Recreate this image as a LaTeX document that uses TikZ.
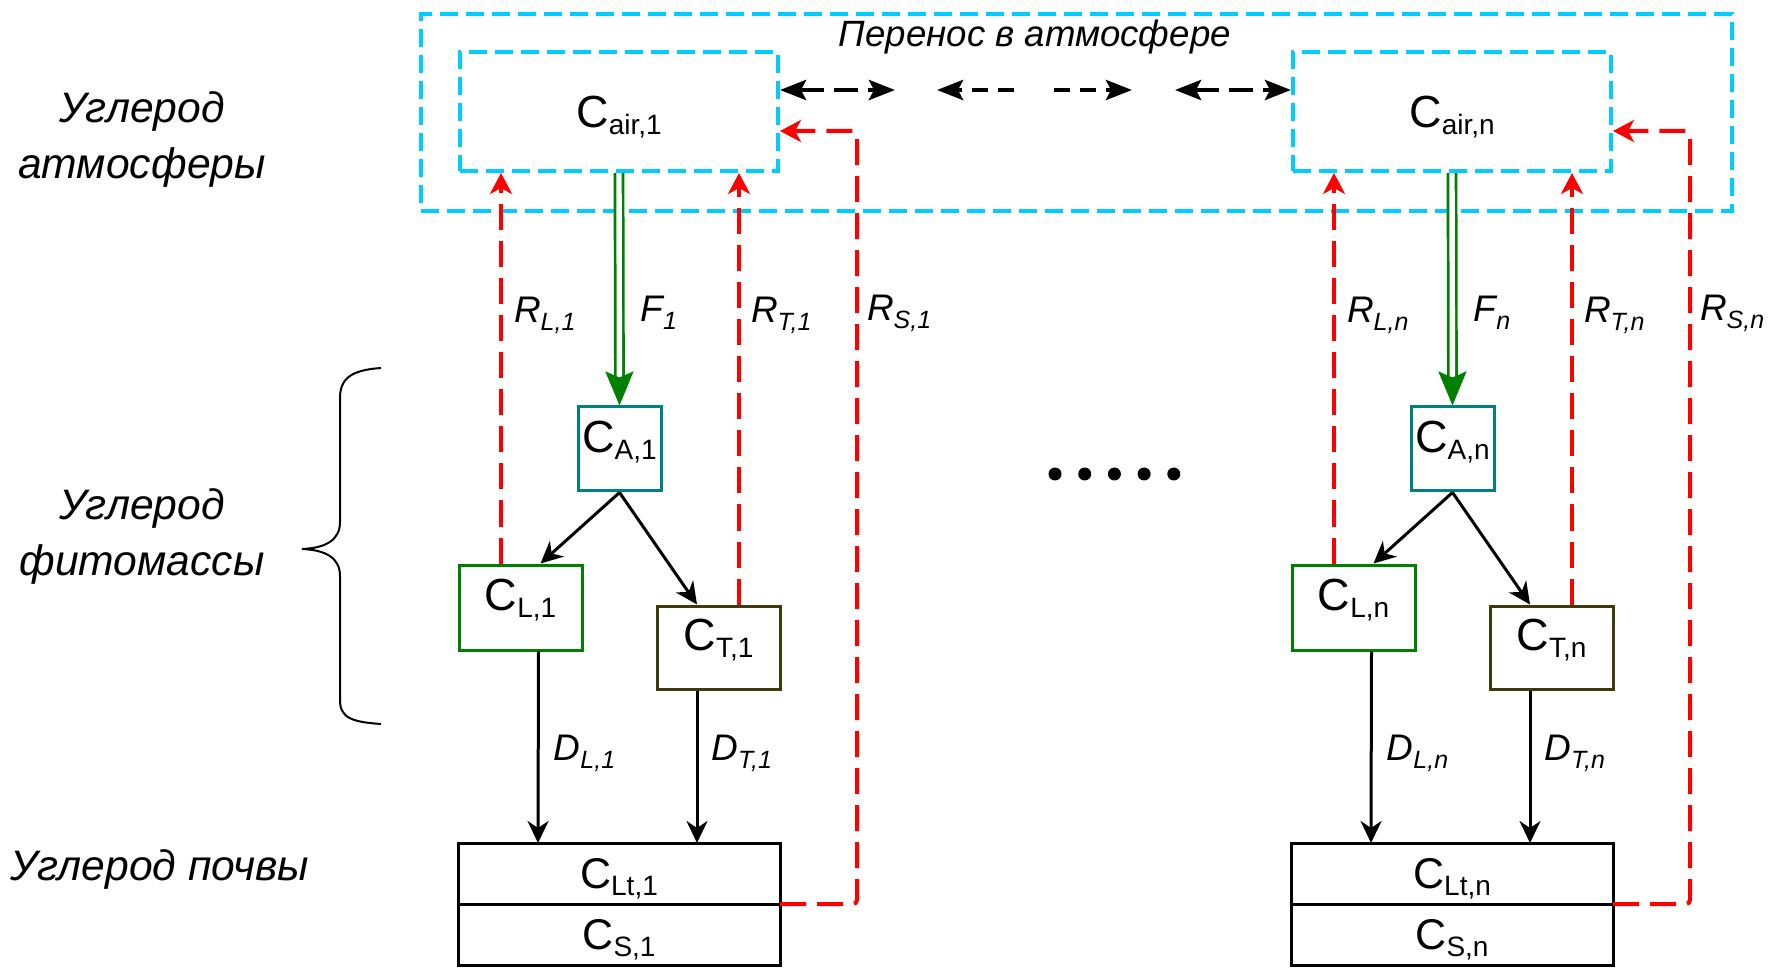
\documentclass[tikz,border=0pt]{standalone}
\usepackage{fontspec}
\setmainfont{Liberation Sans}
\usepackage{tikz}
\usetikzlibrary{arrows.meta, positioning}

\definecolor{airblue}{RGB}{0,204,255}
\definecolor{leafgreen}{RGB}{0,128,0}
\definecolor{assimteal}{RGB}{0,128,128}
\definecolor{trunkolive}{RGB}{60,60,10}

\newcommand{\bsub}[1]{\raisebox{-3.5pt}{\fontsize{14}{14}\selectfont #1}}
\newcommand{\ssub}[1]{\raisebox{-3.5pt}{\fontsize{14}{14}\selectfont #1}}
\newcommand{\fsub}[1]{\raisebox{-4pt}{\fontsize{12.5}{12.5}\selectfont #1}}

\tikzset{
    airframe/.style={rectangle, draw=airblue, line width=2pt, dash pattern=on 9pt off 4pt},
    poolbox/.style={rectangle, draw=black, line width=1.5pt, inner sep=1pt, font=\fontsize{22.5}{24}\selectfont, text height=16.1pt, text depth=13pt},
    airbox/.style={poolbox, airframe, minimum width=159pt, minimum height=59.5pt, text depth=0pt},
    assimbox/.style={poolbox, draw=assimteal, minimum width=41.5pt, minimum height=42pt},
    leafbox/.style={poolbox, draw=leafgreen, minimum width=61.5pt, minimum height=42.5pt},
    trunkbox/.style={poolbox, draw=trunkolive, minimum width=61.5pt, minimum height=41.5pt},
    soilbox/.style={poolbox, outer sep=0pt, font=\fontsize{21.5}{23}\selectfont, text height=15.4pt, text depth=0pt, minimum width=161pt, minimum height=30.5pt},
    sidelabel/.style={font=\fontsize{21.3}{28}\selectfont\itshape, align=center, inner sep=0pt},
    titlelabel/.style={font=\fontsize{18.3}{20}\selectfont\itshape, inner sep=0pt, text height=13.1pt, text depth=0pt},
    flowlabel/.style={font=\fontsize{18.5}{20}\selectfont\itshape, inner sep=0pt, text height=13.2pt, text depth=0pt},
    fluxarrow/.style={draw=leafgreen, line width=1.35pt, double=white, double distance=2.7pt, -{Stealth[length=17pt, width=14pt, inset=3pt]}},
    resparrow/.style={draw=red, line width=2pt, dash pattern=on 13pt off 5.5pt, -{Stealth[length=10.5pt, width=11pt, inset=3pt]}},
    flowarrow/.style={draw=black, line width=1.5pt, -{Stealth[length=11pt, width=10.5pt, inset=3.5pt]}},
    transarrow/.style={draw=black, line width=2.2pt, dash pattern=on 12pt off 5pt, >={Stealth[length=13pt, width=10pt, inset=2.5pt]}}
}

\begin{document}
\begin{tikzpicture}[x=0.5pt, y=-0.5pt]
    \useasboundingbox (0,0) rectangle (1769,968);

    % atmosphere frame
    \node[airframe, minimum width=655.5pt, minimum height=98.5pt] (atmos) at (1076.5,112.5) {};
    \node[titlelabel] (atmostitle) at (1035,33) {Перенос в атмосфере};

    % side captions
    \node[sidelabel] (lblair) at (142,139) {Углерод\\атмосферы};
    \node[sidelabel] (lblplant) at (142,536) {Углерод\\фитомассы};
    \node[sidelabel] (lblsoil) at (160,869) {Углерод почвы};
    \draw[line width=1pt] (381,368) .. controls (352,370) and (340,378) .. (340,398) -- (340,522)
        .. controls (340,540) and (326,548) .. (302,549) .. controls (326,550) and (340,558) .. (340,576)
        -- (340,700) .. controls (340,718) and (352,722) .. (381,724);

    % the two columns
    \foreach \i/\dx in {1/0, n/833}{
        \node[airbox] (cair\i) at (619+\dx,111.5) {C\bsub{air,\i}};
        \node[assimbox] (ca\i) at (619.5+\dx,449) {C\bsub{A,\i}};
        \node[leafbox] (cl\i) at (520.5+\dx,607.5) {C\bsub{L,\i}};
        \node[trunkbox] (ct\i) at (718.5+\dx,647.5) {C\bsub{T,\i}};
        \node[soilbox] (clt\i) at (619+\dx,873.5) {C\ssub{Lt,\i}};
        \node[soilbox, below=0pt of clt\i] (cs\i) {C\ssub{S,\i}};

        \draw[fluxarrow] (cair\i.south) -- node[flowlabel, pos=0.58, right=10pt] {F\fsub{\i}} (ca\i.north);
        \draw[flowarrow] (ca\i.south) -- ([xshift=10pt]cl\i.north);
        \draw[flowarrow] (ca\i.south) -- ([xshift=-10.75pt]ct\i.north);
        \draw[resparrow] ([xshift=-9.75pt]cl\i.north) -- node[flowlabel, pos=0.652, right=5.5pt] {R\fsub{L,\i}} ([xshift=-59pt]cair\i.south);
        \draw[resparrow] ([xshift=10.25pt]ct\i.north) -- node[flowlabel, pos=0.685, right=5pt] {R\fsub{T,\i}} ([xshift=60pt]cair\i.south);
        \draw[resparrow, rounded corners=2pt] (clt\i.south east) -- ++(77,0) |- node[flowlabel, pos=0.386, right=4pt] {R\fsub{S,\i}} ([yshift=-9.75pt]cair\i.east);
        \draw[flowarrow] ([xshift=9pt]cl\i.south) -- node[flowlabel, pos=0.5, right=7pt] {D\fsub{L,\i}} ([xshift=-40.5pt]clt\i.north);
        \draw[flowarrow] ([xshift=-10.75pt]ct\i.south) -- node[flowlabel, pos=0.37, right=6.5pt] {D\fsub{T,\i}} ([xshift=39pt]clt\i.north);
    }

    % transport between cells
    \coordinate (t1) at (895,90);
    \coordinate (t2a) at (1014,90);
    \coordinate (t2b) at (937,90);
    \coordinate (t3a) at (1054,90);
    \coordinate (t3b) at (1132,90);
    \coordinate (t4) at (1175,90);
    \draw[transarrow, <->] ([yshift=10.75pt]cair1.east) -- (t1);
    \draw[transarrow, dash pattern=on 8pt off 5pt, ->] (t2a) -- (t2b);
    \draw[transarrow, dash pattern=on 8pt off 5pt, ->] (t3a) -- (t3b);
    \draw[transarrow, <->] (t4) -- ([yshift=10.75pt]cairn.west);

    % more columns
    \foreach \k in {0,...,4}
        \fill (1055+29.7*\k,474) circle (3.25pt);
\end{tikzpicture}
\end{document}
